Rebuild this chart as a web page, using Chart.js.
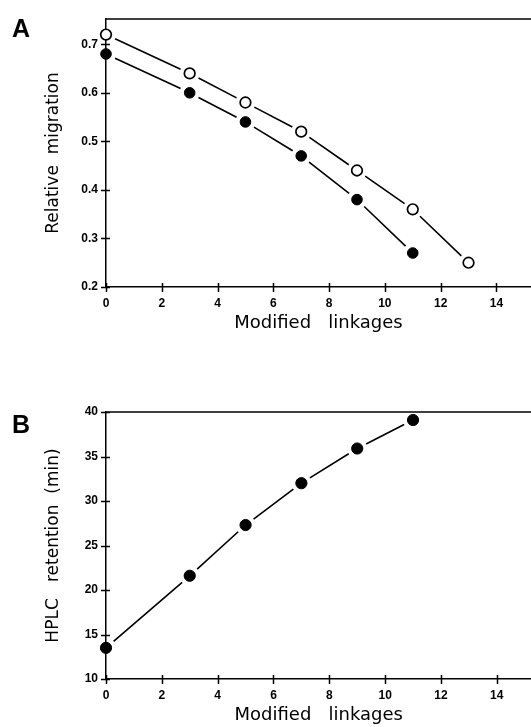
<!DOCTYPE html>
<html>
<head>
<meta charset="utf-8">
<script src="https://cdn.jsdelivr.net/npm/chart.js@4.4.1/dist/chart.umd.min.js"></script>
<style>
  html, body { margin: 0; padding: 0; background: #fff; overflow: hidden; }
  #page { position: relative; width: 531px; height: 727px; overflow: hidden; }
  .panel-letter {
    position: absolute;
    left: 12px;
    font: bold 25px "Liberation Sans", Arial, sans-serif;
    line-height: 1;
    color: #000;
  }
  .panel { position: absolute; left: 0; width: 531px; overflow: hidden; }
</style>
</head>
<body>
<div id="page">
  <div class="panel" style="top:0;height:340px"><canvas id="chartA" width="538" height="340"></canvas></div>
  <div class="panel" style="top:340px;height:387px"><canvas id="chartB" width="538" height="387"></canvas></div>
  <div class="panel-letter" style="top:16px">A</div>
  <div class="panel-letter" style="top:412px">B</div>
</div>
<script>
  // values
  var linkages = [0, 3, 5, 7, 9, 11, 13];
  var migrationOpen = [0.72, 0.64, 0.58, 0.52, 0.44, 0.36, 0.25];
  var migrationFilled = [0.68, 0.60, 0.54, 0.47, 0.38, 0.27];
  var retention = [13.5, 21.6, 27.3, 32.0, 35.9, 39.1];

  var xTicks = [0, 2, 4, 6, 8, 10, 12, 14];
  var yTicksA = [0.2, 0.3, 0.4, 0.5, 0.6, 0.7];
  var yTicksB = [10, 15, 20, 25, 30, 35, 40];

  var X_MAX = 15.24;
  var TICK_FONT = { family: '"Liberation Sans", Arial, sans-serif', size: 12, weight: 'bold' };
  var TITLE_FONT = { family: '"DejaVu Sans", sans-serif', size: 17, weight: 'normal' };

  function toPoints(xs, ys) {
    return ys.map(function (y, i) {
      return { x: xs[i], y: y };
    });
  }

  // axis frame, crossing tick marks and connecting lines that stop short of the markers
  var framePlugin = {
    id: 'frame',
    beforeDatasetsDraw: function (chart) {
      var ctx = chart.ctx;
      var area = chart.chartArea;
      var xs = chart.scales.x;
      var ys = chart.scales.y;
      ctx.save();
      ctx.strokeStyle = '#000';
      ctx.lineWidth = 1.5;
      ctx.beginPath();
      ctx.moveTo(area.left, area.top);
      ctx.lineTo(chart.width, area.top);
      ctx.moveTo(area.right, area.bottom);
      ctx.lineTo(chart.width, area.bottom);
      xs.ticks.forEach(function (t) {
        var px = Math.round(xs.getPixelForValue(t.value)) + 0.5;
        ctx.moveTo(px, area.bottom - 4);
        ctx.lineTo(px, area.bottom + 5);
      });
      ys.ticks.forEach(function (t) {
        var py = Math.round(ys.getPixelForValue(t.value)) + 0.5;
        ctx.moveTo(area.left - 5, py);
        ctx.lineTo(area.left + 4, py);
      });
      ctx.stroke();

      ctx.lineWidth = 1.6;
      ctx.beginPath();
      chart.data.datasets.forEach(function (ds, i) {
        var pts = chart.getDatasetMeta(i).data;
        var gap = 10;
        for (var k = 1; k < pts.length; k++) {
          var a = pts[k - 1], b = pts[k];
          var dx = b.x - a.x, dy = b.y - a.y;
          var len = Math.sqrt(dx * dx + dy * dy);
          if (len <= gap * 2) continue;
          var ux = dx / len, uy = dy / len;
          ctx.moveTo(a.x + ux * gap, a.y + uy * gap);
          ctx.lineTo(b.x - ux * gap, b.y - uy * gap);
        }
      });
      ctx.stroke();
      ctx.restore();
    }
  };

  function xScale(height, titlePad) {
    return {
      type: 'linear',
      min: 0,
      max: X_MAX,
      afterBuildTicks: function (scale) {
        scale.ticks = xTicks.map(function (v) { return { value: v }; });
      },
      afterFit: function (scale) { scale.height = height; },
      grid: { display: false, drawTicks: false },
      border: { display: true, color: '#000', width: 1.5 },
      ticks: {
        color: '#000',
        padding: 9,
        maxRotation: 0,
        font: TICK_FONT,
        callback: function (v) { return String(v); }
      },
      title: {
        display: true,
        text: 'Modified   linkages',
        color: '#000',
        font: { family: TITLE_FONT.family, size: 18, weight: 'normal' },
        padding: { top: 0, bottom: titlePad }
      }
    };
  }

  function yScale(min, max, ticks, title, fmt) {
    return {
      type: 'linear',
      min: min,
      max: max,
      afterBuildTicks: function (scale) {
        scale.ticks = ticks.map(function (v) { return { value: v }; });
      },
      afterFit: function (scale) { scale.width = 106; },
      grid: { display: false, drawTicks: false },
      border: { display: true, color: '#000', width: 1.5 },
      ticks: {
        color: '#000',
        padding: 8,
        font: TICK_FONT,
        callback: fmt
      },
      title: {
        display: true,
        text: title,
        color: '#000',
        font: TITLE_FONT,
        padding: { top: 43, bottom: 0 }
      }
    };
  }

  function baseOptions(paddingTop, scales) {
    return {
      responsive: false,
      animation: false,
      layout: { padding: { top: paddingTop, left: 0, right: 0, bottom: 0 } },
      plugins: { legend: { display: false }, tooltip: { enabled: false } },
      scales: scales
    };
  }

  new Chart(document.getElementById('chartA'), {
    type: 'scatter',
    data: {
      datasets: [
        {
          label: 'open',
          data: toPoints(linkages, migrationOpen),
          pointRadius: 5.3,
          pointBackgroundColor: '#fff',
          pointBorderColor: '#000',
          pointBorderWidth: 1.7,
          showLine: false,
          clip: false
        },
        {
          label: 'filled',
          data: toPoints(linkages, migrationFilled),
          pointRadius: 5.3,
          pointBackgroundColor: '#000',
          pointBorderColor: '#000',
          pointBorderWidth: 1,
          showLine: false,
          clip: false
        }
      ]
    },
    options: baseOptions(19, {
      x: xScale(53, 6),
      y: yScale(0.2, 0.752, yTicksA, 'Relative  migration', function (v) { return v.toFixed(1); })
    }),
    plugins: [framePlugin]
  });

  new Chart(document.getElementById('chartB'), {
    type: 'scatter',
    data: {
      datasets: [
        {
          label: 'retention',
          data: toPoints(linkages, retention),
          pointRadius: 5.6,
          pointBackgroundColor: '#000',
          pointBorderColor: '#000',
          pointBorderWidth: 1,
          showLine: false,
          clip: false
        }
      ]
    },
    options: baseOptions(72, {
      x: xScale(48, 1),
      y: yScale(10, 40, yTicksB, 'HPLC   retention  (min)', function (v) { return String(v); })
    }),
    plugins: [framePlugin]
  });
</script>
</body>
</html>
